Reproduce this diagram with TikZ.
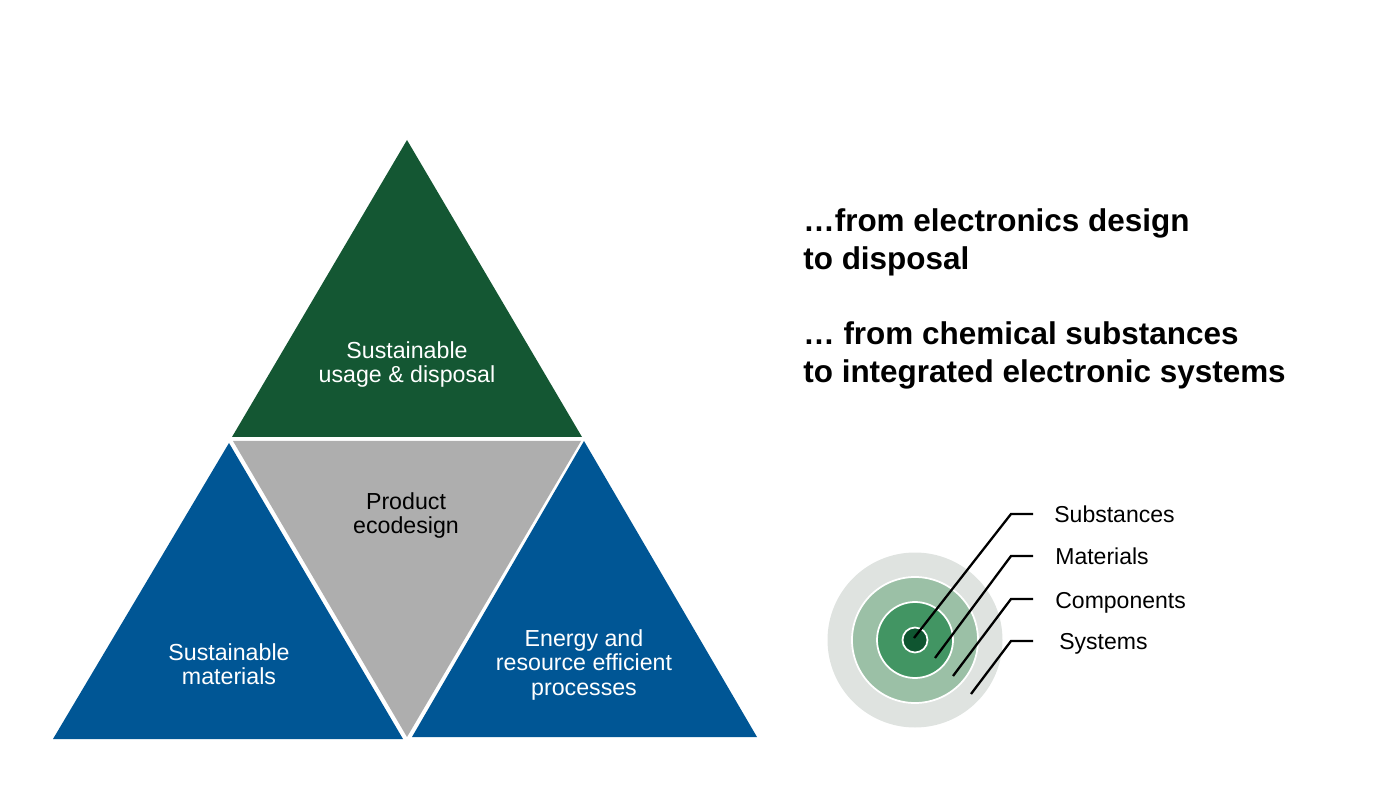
\documentclass[tikz,border=0pt]{standalone}
\usepackage{fontspec}
\setmainfont{Liberation Sans}
\definecolor{darkgreen}{HTML}{145733}
\definecolor{darkblue}{HTML}{005695}
\definecolor{midgray}{HTML}{AEAEAE}
\definecolor{ringa}{HTML}{DFE3E0}
\definecolor{ringb}{HTML}{9BC0A6}
\definecolor{ringc}{HTML}{429563}
\definecolor{ringd}{HTML}{0F5530}
\tikzset{
  triangletext/.style={align=center,font=\fontsize{13.2}{13.7}\selectfont,inner sep=0pt},
  headtext/.style={align=left,anchor=west,font=\fontsize{17.9}{21.6}\selectfont\bfseries,inner sep=0pt},
  ringlabel/.style={anchor=west,font=\fontsize{13.1}{16}\selectfont,inner sep=0pt},
  ring/.style={draw=white,line width=1pt},
  leader/.style={draw=black,line width=1.3pt}
}
\begin{document}
\begin{tikzpicture}[x=0.02cm,y=-0.02cm]
   \useasboundingbox (0,0) rectangle (1380,790);

   % les quatre triangles
   \fill[darkgreen] (407,140) -- (582,437) -- (232,437) -- cycle;
   \fill[midgray] (233,441) -- (581,441) -- (407,737) -- cycle;
   \fill[darkblue] (229,443) -- (403,739) -- (53,739) -- cycle;
   \fill[darkblue] (584,441) -- (757,737) -- (412,737) -- cycle;

   \node[triangletext,text=white] (usage) at (407,364.5) {Sustainable\\usage \& disposal};
   \node[triangletext] (ecodesign) at (406,515.5) {Product\\ecodesign};
   \node[triangletext,text=white] (materials) at (229,664) {Sustainable\\materials};
   \node[triangletext,text=white] (processes) at (584,665) {Energy and\\resource efficient\\processes};

   % texte de droite
   \node[headtext] (head1) at (803,242) {…from electronics design\\to disposal};
   \node[headtext] (head2) at (803,355) {… from chemical substances\\to integrated electronic systems};

   % cercles
   \fill[ringa] (915,640) circle (87.5);
   \filldraw[ring,fill=ringb] (915,640) circle (63);
   \filldraw[ring,fill=ringc] (915,640) circle (38);
   \filldraw[ring,fill=ringd] (915,640) circle (12.5);

   \node[ringlabel] (substances) at (1054,514) {Substances};
   \node[ringlabel] (matlabel) at (1055,556) {Materials};
   \node[ringlabel] (components) at (1055,603) {Components};
   \node[ringlabel] (systems) at (1059,644) {Systems};

   \coordinate (p1) at (914,638);
   \coordinate (p2) at (935,658);
   \coordinate (p3) at (953,676);
   \coordinate (p4) at (971,694);
   \coordinate (k1) at (1011,514);
   \coordinate (k2) at (1011,556);
   \coordinate (k3) at (1011,599);
   \coordinate (k4) at (1011,641);

   % traits vers les etiquettes
   \draw[leader,shorten >=0.42cm] (p1) -- (k1) -- (substances.west |- k1);
   \draw[leader,shorten >=0.44cm] (p2) -- (k2) -- (matlabel.west |- k2);
   \draw[leader,shorten >=0.44cm] (p3) -- (k3) -- (components.west |- k3);
   \draw[leader,shorten >=0.52cm] (p4) -- (k4) -- (systems.west |- k4);
\end{tikzpicture}
\end{document}
